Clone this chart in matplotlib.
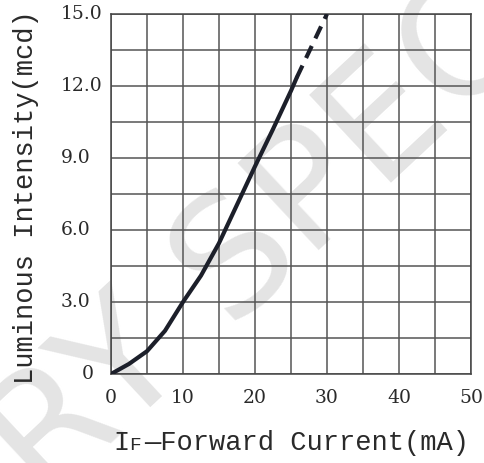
import numpy as np
import matplotlib.pyplot as plt
import matplotlib.transforms as mtransforms

# data
current_solid = [0, 2.5, 5, 7.5, 10, 12.5, 15, 17.5, 20, 22.5, 25, 25.8]
intensity_solid = [0, 0.42, 0.95, 1.8, 3.0, 4.1, 5.45, 7.05, 8.65, 10.2, 11.8, 12.35]
current_dash = [25.8, 30]
intensity_dash = [12.35, 15.0]

x_ticks = [0, 10, 20, 30, 40, 50]
y_ticks = [0, 3, 6, 9, 12, 15]
y_tick_labels = ["0", "3.0", "6.0", "9.0", "12.0", "15.0"]

label_font = "Liberation Mono"
tick_font = "DejaVu Serif"
ink = "#1c1f2a"
txt = "#2a2a2a"

fig = plt.figure(figsize=(4.84, 4.63), dpi=100)
ax = fig.add_axes([0.2293, 0.1922, 0.7438, 0.7776])
ax.set_zorder(2)
ax.set_facecolor("none")

# watermark behind the chart
fig.text(1.05, 0.975, "PRELIMINARY SPEC", fontsize=118, color="#e4e4e4",
         rotation=43, rotation_mode="anchor", ha="right", va="center",
         family="DejaVu Sans", zorder=1)

ax.plot(current_solid, intensity_solid, color=ink, lw=3.0,
        solid_capstyle="round", solid_joinstyle="round", zorder=3)
ax.plot(current_dash, intensity_dash, color=ink, lw=3.0,
        dashes=(3.2, 2.0), zorder=3)

ax.set_xlim(0, 50)
ax.set_ylim(0, 15)
# grid every 5 mA / 1.5 mcd, labels only on the main steps
ax.set_xticks(np.arange(0, 51, 5))
ax.set_yticks(np.arange(0, 15.1, 1.5))
ax.set_xticklabels([str(v) if v in x_ticks else "" for v in range(0, 51, 5)],
                   family=tick_font, fontsize=13.5)
ax.set_yticklabels([])
ax.grid(True, color="#555555", lw=1.1)
ax.tick_params(length=0, colors=txt)
ax.tick_params(axis="x", pad=11)
for s in ax.spines.values():
    s.set_color("#444444")
    s.set_linewidth(1.1)

# y labels are left aligned in the reference (the "0" sits further right)
trans = mtransforms.blended_transform_factory(fig.transFigure, ax.transData)
for v, lab in zip(y_ticks, y_tick_labels):
    xpos = 82 / 484 if lab == "0" else 61 / 484
    ax.text(xpos, v, lab, transform=trans, ha="left", va="center",
            family=tick_font, fontsize=13.5, color=txt, clip_on=False)

# axis titles
fig.text(26 / 484, 1 - 197 / 463, "Luminous Intensity(mcd)", rotation=90,
         ha="center", va="center", family=label_font, fontsize=19.5, color=txt)
yb = 1 - 450 / 463
fig.text(113 / 484, yb, "I", family=label_font, fontsize=19.5, color=txt)
fig.text(129 / 484, yb, "F", family=label_font, fontsize=14, color=txt)
fig.text(144 / 484, yb, "\u2014Forward Current(mA)", family=label_font,
         fontsize=19.5, color=txt)

fig.savefig("out.png", dpi=100)
